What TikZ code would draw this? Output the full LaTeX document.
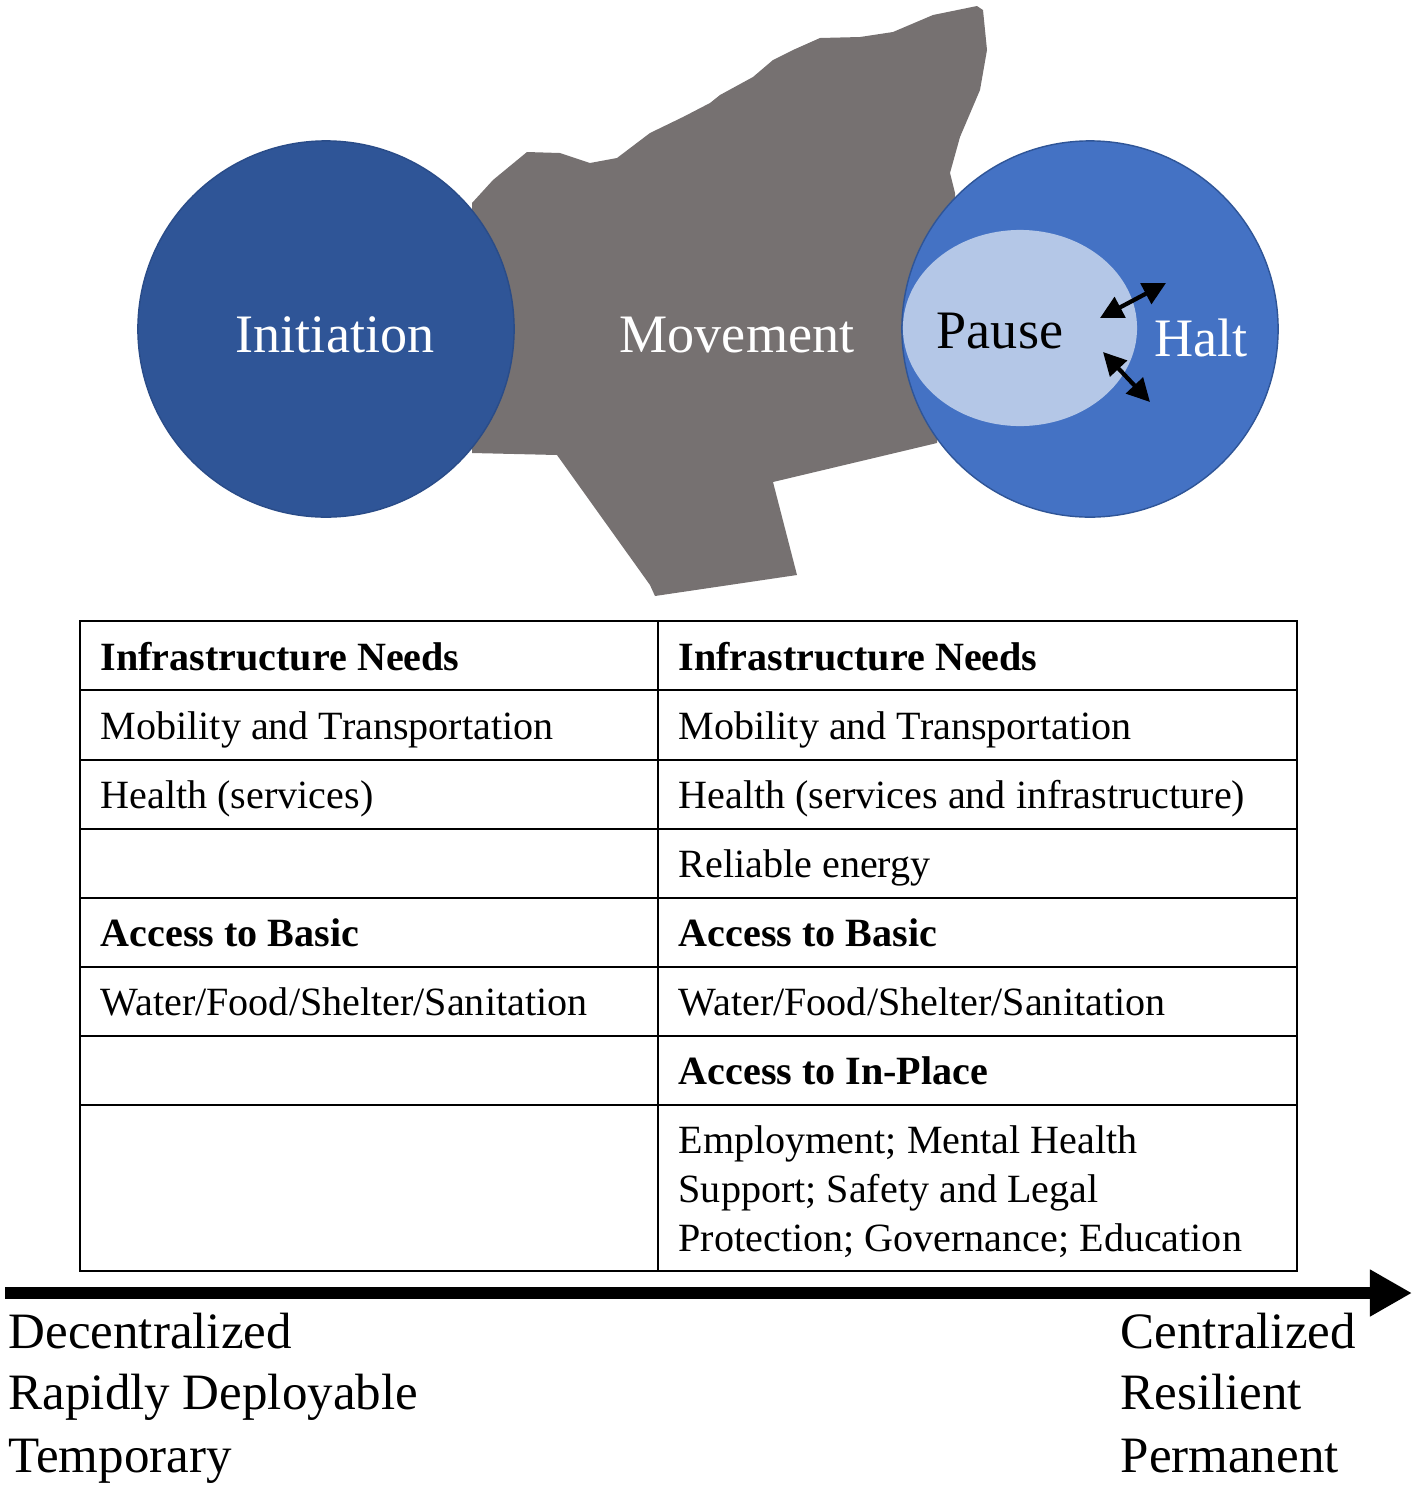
\documentclass[tikz,border=0pt]{standalone}
\usepackage{fontspec}
\setmainfont{Liberation Serif}
\usetikzlibrary{arrows.meta,shapes.geometric}
\definecolor{darkblue}{HTML}{2F5597}
\definecolor{midblue}{HTML}{4472C4}
\definecolor{lightblue}{HTML}{B4C7E7}
\definecolor{shapegray}{HTML}{767171}
\begin{document}
\begin{tikzpicture}[x=0.01cm,y=-0.01cm,
  bigtxt/.style={font=\fontsize{15.4}{18}\selectfont, inner sep=0pt, anchor=base},
  celltxt/.style={font=\fontsize{11.4}{14}\selectfont, inner sep=0pt, anchor=base west},
  headtxt/.style={celltxt, font=\fontsize{11.4}{14}\selectfont\bfseries},
  axistxt/.style={font=\fontsize{14.5}{17}\selectfont, inner sep=0pt, anchor=base west},
  grid/.style={line width=0.6pt, draw=black},
  dbl/.style={line width=1.2pt, {Triangle[length=6.5pt,width=6.5pt]}-{Triangle[length=6.5pt,width=6.5pt]}}]
\useasboundingbox (0,0) rectangle (1417,1487);
% gray movement shape
\fill[shapegray] (527,152) -- (493,180) -- (472,203) -- (472,453) -- (557,455) -- (650,585) -- (655,596)
  -- (797,575) -- (773,482) -- (937,443) -- (955,300) -- (955,193) -- (950,173) -- (960,137)
  -- (980,90) -- (987,50) -- (983,10) -- (977,6) -- (933,15) -- (893,32) -- (860,37)
  -- (820,38) -- (793,50) -- (773,60) -- (753,77) -- (720,95) -- (710,103) -- (683,117)
  -- (650,133) -- (617,158) -- (590,163) -- (560,153) -- cycle;
% circles
\node[circle, fill=darkblue, draw=darkblue!90!black, line width=0.4pt, minimum size=3.76cm, inner sep=0pt] (init) at (326,329) {};
\node[circle, fill=midblue, draw=darkblue, line width=0.4pt, minimum size=3.76cm, inner sep=0pt] (halt) at (1090,329) {};
\node[ellipse, fill=lightblue, minimum width=2.34cm, minimum height=1.96cm, inner sep=0pt] (pause) at (1020,328) {};
% labels
\node[bigtxt, text=white] (tinit) at (335,352) {Initiation};
\node[bigtxt, text=white] (tmove) at (737,352) {Movement};
\node[bigtxt, text=black] (tpause) at (1000,348) {Pause};
\node[bigtxt, text=white] (thalt) at (1201,356) {Halt};
% double arrows
\coordinate (a1s) at (1100,318); \coordinate (a1e) at (1166,283);
\coordinate (a2s) at (1103,352); \coordinate (a2e) at (1150,402);
\draw[dbl] (a1s) -- (a1e);
\draw[dbl] (a2s) -- (a2e);
% table
\draw[grid] (80,621) rectangle (1297,1271);
\draw[grid] (658,621) -- (658,1271);
\foreach \yy in {690,760,829,898,967,1036,1105} \draw[grid] (80,\yy) -- (1297,\yy);
\node[headtxt] (l1) at (100,670) {Infrastructure Needs};
\node[headtxt] (r1) at (678,670) {Infrastructure Needs};
\node[celltxt] (l2) at (100,739) {Mobility and Transportation};
\node[celltxt] (r2) at (678,739) {Mobility and Transportation};
\node[celltxt] (l3) at (100,808) {Health (services)};
\node[celltxt] (r3) at (678,808) {Health (services and infrastructure)};
\node[celltxt] (r4) at (678,877) {Reliable energy};
\node[headtxt] (l5) at (100,946) {Access to Basic};
\node[headtxt] (r5) at (678,946) {Access to Basic};
\node[celltxt] (l6) at (100,1015) {Water/Food/Shelter/Sanitation};
\node[celltxt] (r6) at (678,1015) {Water/Food/Shelter/Sanitation};
\node[headtxt] (r7) at (678,1084) {Access to In-Place};
\node[celltxt] (r8a) at (678,1153) {Employment; Mental Health};
\node[celltxt] (r8b) at (678,1202) {Support; Safety and Legal};
\node[celltxt] (r8c) at (678,1251) {Protection; Governance; Education};
% axis arrow
\coordinate (ax0) at (5,1293); \coordinate (ax1) at (1412,1293);
\draw[line width=0.12cm, -{Triangle[length=0.42cm,width=0.44cm]}] (ax0) -- (ax1);
\node[axistxt] (d1) at (8,1348) {Decentralized};
\node[axistxt] (d2) at (8,1409) {Rapidly Deployable};
\node[axistxt] (d3) at (8,1472) {Temporary};
\node[axistxt] (c1) at (1120,1348) {Centralized};
\node[axistxt] (c2) at (1120,1409) {Resilient};
\node[axistxt] (c3) at (1120,1472) {Permanent};
\end{tikzpicture}
\end{document}
